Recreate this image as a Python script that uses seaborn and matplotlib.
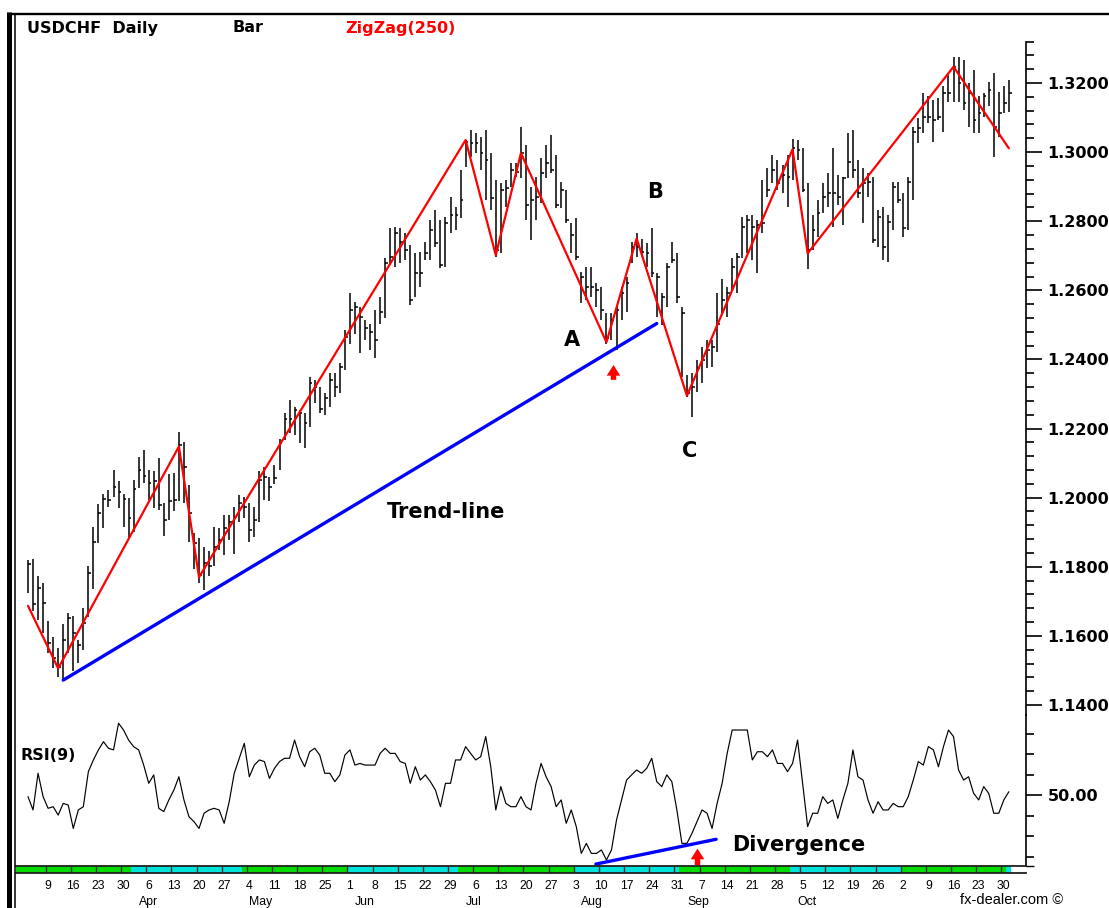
import numpy as np
import pandas as pd
import matplotlib
matplotlib.use("Agg")
import matplotlib.pyplot as plt
import matplotlib.transforms as mtransforms
from matplotlib.lines import Line2D
from matplotlib.ticker import FixedLocator
import seaborn as sns

# ---------------- data ----------------
start_date = "2015-03-03"

highs = [
    1.1820, 1.1822, 1.1774, 1.1754, 1.1644, 1.1598, 1.1564, 1.1634, 1.1665, 1.1658,
    1.1588, 1.1680, 1.1803, 1.1914, 1.1982, 1.2011, 1.2022, 1.2080, 1.2049, 1.2011,
    1.1998, 1.2051, 1.2117, 1.2138, 1.2080, 1.2076, 1.2114, 1.1986, 1.2069, 1.2071,
    1.2191, 1.2162, 1.2037, 1.1899, 1.1884, 1.1858, 1.1847, 1.1914, 1.1911, 1.1950,
    1.1950, 1.1972, 1.2008, 1.2001, 1.1984, 1.1972, 1.2078, 1.2090, 1.2061, 1.2094,
    1.2171, 1.2244, 1.2282, 1.2263, 1.2253, 1.2244, 1.2350, 1.2340, 1.2321, 1.2302,
    1.2360, 1.2360, 1.2389, 1.2485, 1.2591, 1.2567, 1.2553, 1.2514, 1.2504, 1.2543,
    1.2582, 1.2693, 1.2779, 1.2784, 1.2779, 1.2765, 1.2731, 1.2707, 1.2712, 1.2741,
    1.2803, 1.2832, 1.2803, 1.2813, 1.2871, 1.2842, 1.2948, 1.3035, 1.3064, 1.3054,
    1.3045, 1.3064, 1.2997, 1.2919, 1.2910, 1.2919, 1.2968, 1.2968, 1.3074, 1.3021,
    1.2900, 1.2929, 1.2982, 1.3021, 1.3050, 1.2992, 1.2914, 1.2890, 1.2794, 1.2808,
    1.2654, 1.2668, 1.2668, 1.2620, 1.2611, 1.2533, 1.2533, 1.2557, 1.2611, 1.2639,
    1.2741, 1.2765, 1.2750, 1.2736, 1.2779, 1.2649, 1.2591, 1.2678, 1.2741, 1.2707,
    1.2553, 1.2355, 1.2360, 1.2398, 1.2437, 1.2456, 1.2456, 1.2591, 1.2634, 1.2611,
    1.2693, 1.2707, 1.2813, 1.2818, 1.2818, 1.2803, 1.2919, 1.2953, 1.2992, 1.2977,
    1.2963, 1.2992, 1.3037, 1.3035, 1.3011, 1.2910, 1.2818, 1.2861, 1.2910, 1.2939,
    1.3011, 1.2934, 1.2929, 1.3054, 1.3064, 1.2977, 1.2953, 1.2939, 1.2929, 1.2832,
    1.2842, 1.2818, 1.2914, 1.2914, 1.2881, 1.2929, 1.3074, 1.3098, 1.3170, 1.3161,
    1.3151, 1.3156, 1.3190, 1.3223, 1.3276, 1.3276, 1.3267, 1.3199, 1.3238, 1.3161,
    1.3170, 1.3204, 1.3228, 1.3175, 1.3190, 1.3209,
]
lows = [
    1.1723, 1.1673, 1.1646, 1.1607, 1.1550, 1.1506, 1.1482, 1.1472, 1.1550, 1.1497,
    1.1521, 1.1559, 1.1656, 1.1736, 1.1868, 1.1911, 1.1974, 1.2003, 1.1969, 1.1914,
    1.1883, 1.1902, 1.2027, 1.2042, 1.1993, 1.1969, 1.1965, 1.1889, 1.1936, 1.1960,
    1.1989, 1.1984, 1.1873, 1.1793, 1.1754, 1.1733, 1.1773, 1.1801, 1.1849, 1.1834,
    1.1878, 1.1837, 1.1931, 1.1940, 1.1873, 1.1887, 1.1931, 1.1993, 1.1989, 1.2041,
    1.2080, 1.2167, 1.2186, 1.2181, 1.2157, 1.2143, 1.2205, 1.2273, 1.2244, 1.2239,
    1.2263, 1.2292, 1.2302, 1.2369, 1.2446, 1.2475, 1.2418, 1.2456, 1.2427, 1.2403,
    1.2504, 1.2519, 1.2673, 1.2668, 1.2678, 1.2688, 1.2557, 1.2582, 1.2611, 1.2688,
    1.2688, 1.2726, 1.2664, 1.2668, 1.2765, 1.2775, 1.2808, 1.2958, 1.2987, 1.2997,
    1.2948, 1.2861, 1.2832, 1.2697, 1.2707, 1.2842, 1.2900, 1.2929, 1.2924, 1.2803,
    1.2746, 1.2803, 1.2852, 1.2924, 1.2939, 1.2837, 1.2837, 1.2794, 1.2707, 1.2688,
    1.2562, 1.2572, 1.2582, 1.2553, 1.2514, 1.2446, 1.2456, 1.2427, 1.2514, 1.2538,
    1.2678, 1.2697, 1.2697, 1.2668, 1.2639, 1.2524, 1.2500, 1.2553, 1.2678, 1.2562,
    1.2350, 1.2292, 1.2234, 1.2307, 1.2331, 1.2374, 1.2379, 1.2422, 1.2533, 1.2524,
    1.2601, 1.2591, 1.2693, 1.2707, 1.2688, 1.2649, 1.2765, 1.2871, 1.2910, 1.2890,
    1.2881, 1.2842, 1.2919, 1.2977, 1.2886, 1.2663, 1.2717, 1.2755, 1.2823, 1.2842,
    1.2784, 1.2847, 1.2789, 1.2924, 1.2924, 1.2866, 1.2794, 1.2871, 1.2736, 1.2726,
    1.2688, 1.2683, 1.2774, 1.2852, 1.2755, 1.2774, 1.2861, 1.3026, 1.3054, 1.3083,
    1.3030, 1.3093, 1.3059, 1.3146, 1.3146, 1.3146, 1.3122, 1.3074, 1.3054, 1.3054,
    1.3103, 1.3132, 1.2987, 1.3045, 1.3112, 1.3117,
]
closes = [
    1.1808, 1.1692, 1.1740, 1.1694, 1.1579, 1.1535, 1.1511, 1.1588, 1.1651, 1.1607,
    1.1574, 1.1636, 1.1781, 1.1873, 1.1955, 1.1995, 1.1993, 1.2030, 1.2015, 1.1995,
    1.1940, 1.2024, 1.2080, 1.2063, 1.2042, 1.2047, 1.1979, 1.1936, 1.1991, 1.1993,
    1.2153, 1.2090, 1.1955, 1.1868, 1.1776, 1.1810, 1.1801, 1.1858, 1.1878, 1.1911,
    1.1931, 1.1945, 1.1984, 1.1974, 1.1907, 1.1936, 1.2051, 1.2061, 1.2032, 1.2056,
    1.2157, 1.2229, 1.2229, 1.2253, 1.2244, 1.2215, 1.2331, 1.2321, 1.2258, 1.2287,
    1.2340, 1.2321, 1.2379, 1.2466, 1.2543, 1.2553, 1.2524, 1.2490, 1.2480, 1.2456,
    1.2538, 1.2678, 1.2697, 1.2765, 1.2741, 1.2717, 1.2572, 1.2649, 1.2649, 1.2707,
    1.2775, 1.2736, 1.2673, 1.2794, 1.2818, 1.2818, 1.2861, 1.3030, 1.3025, 1.3025,
    1.2997, 1.2977, 1.2866, 1.2717, 1.2890, 1.2895, 1.2948, 1.2943, 1.2997, 1.2847,
    1.2861, 1.2871, 1.2939, 1.2968, 1.2948, 1.2847, 1.2890, 1.2803, 1.2760, 1.2697,
    1.2639, 1.2611, 1.2611, 1.2601, 1.2543, 1.2461, 1.2514, 1.2543, 1.2591, 1.2620,
    1.2726, 1.2726, 1.2712, 1.2707, 1.2649, 1.2639, 1.2582, 1.2668, 1.2688, 1.2580,
    1.2533, 1.2302, 1.2321, 1.2374, 1.2398, 1.2427, 1.2437, 1.2504, 1.2572, 1.2591,
    1.2668, 1.2697, 1.2784, 1.2803, 1.2784, 1.2788, 1.2794, 1.2890, 1.2948, 1.2910,
    1.2934, 1.2929, 1.3011, 1.3006, 1.2890, 1.2717, 1.2775, 1.2823, 1.2871, 1.2881,
    1.2881, 1.2871, 1.2924, 1.2972, 1.2948, 1.2881, 1.2910, 1.2914, 1.2746, 1.2813,
    1.2726, 1.2799, 1.2900, 1.2861, 1.2779, 1.2914, 1.3059, 1.3069, 1.3103, 1.3103,
    1.3093, 1.3103, 1.3170, 1.3170, 1.3247, 1.3199, 1.3141, 1.3170, 1.3093, 1.3112,
    1.3161, 1.3180, 1.3074, 1.3112, 1.3141, 1.3170,
]
rsi = [
    49.2, 42.7, 60.6, 49.2, 43.5, 44.3, 40.2, 45.9, 45.1, 33.7,
    42.7, 44.3, 61.4, 67.1, 72.0, 76.0, 72.8, 72.0, 85.0, 81.7,
    76.8, 73.6, 72.0, 64.6, 55.7, 59.8, 43.5, 41.9, 47.6, 52.4,
    58.9, 47.6, 39.4, 37.0, 33.7, 41.1, 42.7, 43.5, 42.7, 36.2,
    46.7, 60.6, 67.9, 75.2, 58.9, 64.6, 67.1, 66.3, 58.1, 63.0,
    66.3, 67.9, 67.9, 76.8, 68.7, 63.8, 71.1, 72.8, 69.5, 60.6,
    60.6, 56.5, 59.8, 69.5, 72.0, 64.6, 65.4, 64.6, 64.6, 64.6,
    70.3, 72.8, 70.3, 70.3,
    66.3, 65.4, 55.7, 63.8, 57.3, 59.8, 56.5, 52.4, 44.3, 55.7,
    55.7, 67.1, 67.1, 73.6, 70.3, 67.1, 68.7, 78.5, 63.8, 42.7,
    54.1, 45.9, 44.3, 44.3, 49.2, 44.3, 42.7, 55.7, 65.4, 58.9,
    54.1, 44.3, 47.6, 36.2, 42.7, 34.6, 21.5, 26.4, 21.5, 21.5,
    23.2, 18.3, 23.2, 37.8, 47.6, 57.3, 59.8, 62.2, 60.6, 63.0,
    67.9, 56.5, 54.1, 59.8, 56.5, 42.7, 26.4, 26.4, 31.3, 37.0,
    42.7, 41.1, 33.7, 45.9, 55.7, 70.3, 81.7, 81.7, 81.7, 81.7,
    67.1, 71.1, 71.1, 68.7, 72.0, 65.4, 65.4, 61.4, 65.4, 76.8,
    55.7, 34.6, 41.1, 41.1, 49.2, 45.9, 47.6, 38.6, 47.6, 55.7,
    72.0, 58.9, 57.3, 47.6, 41.1, 46.7, 42.7, 42.7, 45.9, 44.3,
    44.3, 49.2, 57.3, 66.3, 64.6, 73.6, 72.0, 63.8, 73.6, 81.7,
    78.5, 62.2, 57.3, 58.9, 50.8, 47.6, 54.1, 50.8, 41.1, 41.1,
    47.6, 51.6,
]
# ZigZag(250) pivots: bar index and price
zz_bar = [0, 6, 30, 34, 87, 93, 98, 115, 121, 131, 152, 155, 184, 195]
zz_price = [1.1687, 1.1506, 1.2148, 1.1770, 1.3035, 1.2702, 1.2997, 1.2450,
            1.2750, 1.2295, 1.3008, 1.2707, 1.3247, 1.3011]
# trend-line (price panel) and divergence line (RSI panel)
trend_bar = [7.0, 125.0]
trend_price = [1.1472, 1.2504]
div_bar = [112.9, 136.8]
div_rsi = [16.3, 28.4]
# axis ticks
price_major = [1.14, 1.16, 1.18, 1.20, 1.22, 1.24, 1.26, 1.28, 1.30, 1.32]
rsi_major = [50]
rsi_minor = [20, 30, 40, 60, 70, 80]
month_names = {4: "Apr", 5: "May", 6: "Jun", 7: "Jul", 8: "Aug", 9: "Sep", 10: "Oct"}

# ---------------- style ----------------
sns.set_theme(style="white")
plt.rcParams["font.family"] = ["DejaVu Sans"]
plt.rcParams["text.color"] = "black"

n = len(closes)
xi = np.arange(n)
dates = pd.bdate_range(start_date, periods=n)

W, H = 1109, 908
fig = plt.figure(figsize=(W / 100, H / 100), dpi=100)
fig.patch.set_facecolor("white")


def rect(l, t, r, b):
    return [l / W, 1 - b / H, (r - l) / W, (b - t) / H]


STEP = 5.03
X_FIRST = 28.0
xl = ((20 - X_FIRST) / STEP, (1026 - X_FIRST) / STEP)
PPU = 3455.6
p_lim = (1.32 - (715 - 83) / PPU, 1.32 + (83 - 15) / PPU)
R_PPU = 2.05
r_lim = (50 - (866 - 795) / R_PPU, 50 + (795 - 715) / R_PPU)

axp = fig.add_axes(rect(20, 15, 1026, 715))
axr = fig.add_axes(rect(20, 715, 1026, 866))
axs = fig.add_axes(rect(16, 866, 1026, 873))

# ---------------- price panel ----------------
axp.vlines(xi, lows, highs, color="black", linewidth=1.1, zorder=2)
axp.hlines(closes, xi, xi + 0.55, color="black", linewidth=1.1, zorder=2)
sns.lineplot(x=trend_bar, y=trend_price, ax=axp, color="#0000ff", linewidth=2.4,
             sort=False, estimator=None, zorder=3)
sns.lineplot(x=zz_bar, y=zz_price, ax=axp, color="#ff0000", linewidth=1.6,
             sort=False, estimator=None, zorder=4)

axp.set_xlim(*xl)
axp.set_ylim(*p_lim)

# ---------------- RSI panel ----------------
sns.lineplot(x=xi, y=rsi, ax=axr, color="black", linewidth=0.85,
             sort=False, estimator=None, zorder=2)
sns.lineplot(x=div_bar, y=div_rsi, ax=axr, color="#0000ff", linewidth=2.4,
             sort=False, estimator=None, zorder=3)
axr.set_xlim(*xl)
axr.set_ylim(*r_lim)

for ax in (axp, axr):
    ax.set_facecolor("none")
    ax.grid(False)
    ax.set_xlabel("")
    ax.set_ylabel("")
    for s in ("top", "left", "bottom"):
        ax.spines[s].set_visible(False)
    ax.spines["right"].set_visible(True)
    ax.spines["right"].set_color("black")
    ax.spines["right"].set_linewidth(1.2)
    ax.yaxis.tick_right()
    ax.tick_params(axis="x", which="both", bottom=False, top=False,
                   labelbottom=False)
    ax.tick_params(axis="y", which="major", right=True, left=False,
                   length=11.5, width=1.2, color="black", pad=4,
                   labelsize=11.5, labelcolor="black")
    ax.tick_params(axis="y", which="minor", right=True, left=False,
                   length=5.8, width=1.2, color="black")

axp.spines["right"].set_bounds(p_lim[0], 1.3318)
axp.set_yticks(price_major, [f"{v:.4f}" for v in price_major], fontweight="bold")
axp.yaxis.set_minor_locator(FixedLocator([1.14 + 0.004 * k for k in range(49)]))
axr.set_yticks(rsi_major, ["50.00"], fontweight="bold")
axr.yaxis.set_minor_locator(FixedLocator(rsi_minor))

# annotations
txt_kw = dict(fontsize=15, fontweight="bold", color="black", ha="center", va="center")
axp.text(108.2, 1.2456, "A", **txt_kw)
axp.text(124.7, 1.2885, "B", **txt_kw)
axp.text(131.6, 1.2135, "C", **txt_kw)
axp.text(71.4, 1.1959, "Trend-line", fontsize=15, fontweight="bold", color="black",
         ha="left", va="center")
axr.text(140.0, 25.6, "Divergence", fontsize=15, fontweight="bold", color="black",
         ha="left", va="center")

arrow_kw = dict(arrowstyle="simple,head_length=0.55,head_width=0.7,tail_width=0.28",
                color="#ff0000", lw=0, mutation_scale=14)
axp.annotate("", xy=(116.4, 1.2392), xytext=(116.4, 1.2333), arrowprops=arrow_kw,
             annotation_clip=False)
axr.annotate("", xy=(133.1, 25.2), xytext=(133.1, 14.5), arrowprops=arrow_kw,
             annotation_clip=False)

# ---------------- date strip ----------------
green, cyan = "#00dc00", "#00e3dc"
cols = [green if d.month % 2 == 1 else cyan for d in dates]
axs.bar(xi, 1, width=1.0, bottom=0, color=cols, linewidth=0, align="center")
axs.axvspan((16 - X_FIRST) / STEP, -0.5, color=green, lw=0)
mondays = [i for i, d in enumerate(dates) if d.dayofweek == 0]
axs.vlines(np.array(mondays) - 0.5, 0, 1, color="#303030", linewidth=1.0)
axs.set_xlim((16 - X_FIRST) / STEP, xl[1])
axs.set_ylim(0, 1)
axs.set_yticks([])
axs.set_facecolor("white")
for s in ("left", "right"):
    axs.spines[s].set_visible(False)
for s in ("top", "bottom"):
    axs.spines[s].set_visible(True)
    axs.spines[s].set_color("#202020")
    axs.spines[s].set_linewidth(1.3)
axs.set_xticks(mondays, [str(dates[i].day) for i in mondays],
               fontfamily="Liberation Sans", fontsize=8.8, color="black")
axs.tick_params(axis="x", length=0, pad=5.0)

trans = mtransforms.blended_transform_factory(axs.transData, fig.transFigure)
seen = set()
for i, d in enumerate(dates):
    if d.month in month_names and d.month not in seen:
        seen.add(d.month)
        axs.text(i + 1.0, 1 - 902 / H, month_names[d.month], transform=trans,
                 ha="left", va="center", fontsize=8.8, family="Liberation Sans",
                 color="black")

# ---------------- headers & frame ----------------
def ftext(x, y, s, **kw):
    fig.text(x / W, 1 - y / H, s, ha="left", va="center", **kw)

ftext(27, 28, "USDCHF  Daily", fontsize=11.5, fontweight="bold", color="black")
ftext(232, 28, "Bar", fontsize=11.5, fontweight="bold", color="black")
ftext(345, 28, "ZigZag(250)", fontsize=11.5, fontweight="bold", color="#ff0000")
ftext(20, 755, "RSI(9)", fontsize=11.5, fontweight="bold", color="black")
ftext(960, 900, "fx-dealer.com ©", fontsize=10.5, family="Liberation Sans", color="black")

def fline(xs, ys, lw, color="black"):
    fig.add_artist(Line2D([x / W for x in xs], [1 - y / H for y in ys],
                          transform=fig.transFigure, color=color, linewidth=lw,
                          solid_capstyle="butt"))

fline([9.3, 9.3], [12, 908], 3.6)
fline([15, 15], [14, 908], 1.1)
fline([7, 1109], [13.6, 13.6], 1.7)
fline([1026, 1034], [866, 866], 1.0)

fig.savefig("out.png", dpi=100, facecolor="white")
